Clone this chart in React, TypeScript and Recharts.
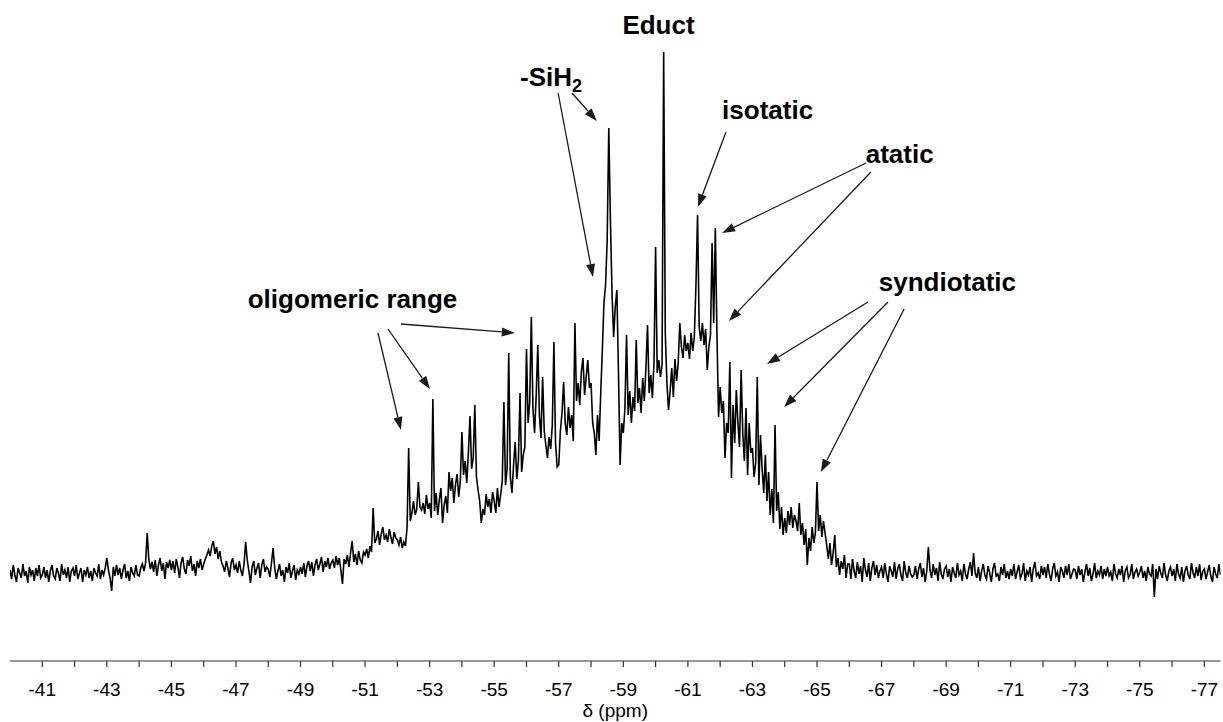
import React from 'react';
import { LineChart, Line, XAxis, YAxis, ReferenceLine, ReferenceDot, Label } from 'recharts';

// Chemical-shift grid of the spectrum (ppm); one row of INTENSITY per ppm.
const PPM_START = -40;
const PPM_STEP = 0.05;

// 29Si NMR intensity (arbitrary units), 20 points per ppm starting at PPM_START.
const INTENSITY: number[][] = [
  /* -40 */ [3, -6, 8, -2, -9, 5, 0, -5, 9, -3, 2, -10, 6, -2, 3, -8, 5, -3, 8, -5],
  /* -41 */ [-2, 6, -5, 3, -9, 2, 8, -3, -6, 5, 0, -8, 9, -2, 3, -5, 6, -9, 2, 5],
  /* -42 */ [-3, 8, -6, 0, 5, -9, 3, -2, 6, -5, 2, -8, 5, 0, -3, 9, -6, 3, -2, 5],
  /* -43 */ [15, 3, -5, -18, 6, -3, 8, -2, 5, -6, 3, 9, -5, 2, -8, 6, 0, -3, 8, -2],
  /* -44 */ [-3, 5, 9, 2, 10, 40, 14, 4, 11, 1, 13, -3, 8, 15, 2, 10, -6, 11, 5, 13],
  /* -45 */ [3, 12, 0, 14, 6, -5, 10, 16, 4, -1, 13, 7, 17, 2, 9, -3, 12, 5, 14, 3],
  /* -46 */ [9, 14, 18, 23, 17, 27, 32, 19, 26, 14, 22, 11, 7, 1, 12, 5, -4, 10, 15, 3],
  /* -47 */ [8, 0, 12, 3, -3, 9, 31, 13, 2, -10, 6, 12, -2, 5, 10, -5, 8, 14, 1, 6],
  /* -48 */ [4, -4, 10, 25, 5, -6, 2, 9, -3, 3, -9, 6, 0, 10, -5, 2, 8, -7, 3, -1],
  /* -49 */ [6, -1, 10, -4, 7, 12, 2, 11, -3, 8, 14, 3, 9, 16, 1, 12, 6, 15, 4, 10],
  /* -50 */ [13, 5, 17, 8, 15, 3, -11, 14, 9, 18, 6, 20, 32, 11, 19, 8, 22, 13, 10, 21],
  /* -51 */ [18, 24, 15, 27, 21, 65, 30, 34, 42, 28, 39, 46, 33, 38, 31, 44, 36, 29, 41, 35],
  /* -52 */ [33, 28, 36, 25, 31, 27, 45, 125, 52, 60, 72, 58, 64, 91, 66, 63, 70, 59, 78, 64],
  /* -53 */ [70, 55, 174, 62, 80, 58, 73, 85, 50, 68, 77, 60, 101, 82, 95, 70, 88, 99, 76, 92],
  /* -54 */ [141, 98, 112, 90, 120, 157, 104, 115, 168, 96, 83, 72, 50, 64, 58, 79, 66, 74, 60, 81],
  /* -55 */ [72, 60, 85, 66, 78, 92, 171, 88, 104, 220, 96, 80, 108, 131, 94, 112, 180, 101, 118, 126],
  /* -56 */ [224, 150, 171, 256, 165, 140, 176, 228, 158, 135, 196, 142, 128, 115, 136, 124, 148, 231, 130, 106],
  /* -57 */ [108, 142, 160, 191, 150, 138, 166, 145, 158, 132, 250, 172, 190, 168, 201, 215, 178, 196, 213, 185],
  /* -58 */ [190, 150, 140, 118, 158, 132, 180, 223, 270, 288, 333, 445, 353, 280, 236, 266, 283, 200, 108, 150],
  /* -59 */ [140, 165, 238, 158, 182, 150, 176, 162, 233, 170, 185, 160, 195, 172, 205, 248, 180, 198, 175, 210],
  /* -60 */ [326, 200, 213, 196, 208, 521, 240, 190, 163, 182, 205, 176, 214, 192, 210, 250, 226, 215, 238, 222],
  /* -61 */ [230, 214, 240, 222, 236, 288, 358, 246, 232, 250, 228, 244, 203, 226, 238, 330, 250, 345, 240, 156],
  /* -62 */ [186, 160, 172, 115, 150, 140, 211, 95, 168, 130, 183, 150, 126, 203, 140, 112, 165, 98, 150, 120],
  /* -63 */ [125, 96, 110, 196, 88, 138, 104, 80, 118, 72, 101, 58, 84, 50, 148, 62, 81, 44, 66, 38],
  /* -64 */ [55, 40, 62, 48, 66, 45, 58, 52, 42, 70, 38, 50, 28, 44, 8, 35, 22, 46, 30, 40],
  /* -65 */ [91, 42, 58, 36, 52, 40, 28, 14, 30, 8, 20, 38, 6, 15, -2, 12, 4, 18, -5, 9],
  /* -66 */ [9, -6, 14, 2, -5, 11, -1, 7, -9, 15, 3, -4, 10, -8, 5, 12, -2, 8, -5, 2],
  /* -67 */ [6, -5, 10, -1, -9, 7, 2, -4, 11, -6, 4, 9, -2, -8, 12, 0, -5, 7, -1, -4],
  /* -68 */ [-2, 7, -6, 4, 10, -4, 5, -9, 2, 26, 3, -5, 9, -2, 5, -8, 11, -1, -6, 4],
  /* -69 */ [7, -4, 4, -9, 6, 0, -5, 10, -2, 2, -8, 9, -1, -6, 4, 11, -3, 20, 0, -5],
  /* -70 */ [6, -8, 2, 9, -2, -6, 7, 0, -9, 4, 10, -3, -1, -8, 6, -2, 9, -5, 2, -6],
  /* -71 */ [4, -3, 9, -6, 1, 8, -5, -1, 10, -8, 2, -2, 6, -9, 4, 11, -3, 0, -6, 7],
  /* -72 */ [-2, 6, -5, 9, -1, -8, 4, 10, -3, 1, -9, 6, 2, -5, 7, -2, 9, -6, -1, 4],
  /* -73 */ [3, -6, 7, -2, 4, -9, 1, 9, -3, 5, -8, -1, 10, -5, 2, -2, 7, -6, 4, -3],
  /* -74 */ [6, -3, 1, -8, 9, -1, -5, 4, -2, 7, -9, 2, 6, -5, -2, 9, -6, 1, 4, -3],
  /* -75 */ [1, 7, -5, 2, -8, 6, -1, -3, 9, -24, 4, -6, 7, 0, -5, 10, -2, -8, 2, 6],
  /* -76 */ [-3, 4, -8, 9, -1, -5, 6, -9, 2, 7, -2, -6, 10, 0, -5, 6, -3, 9, -7, 2],
  /* -77 */ [4, -6, 1, 8, -3, -9, 6, -1, -5, 9, -2],
];

const MAJOR_TICKS = [-41, -43, -45, -47, -49, -51, -53, -55, -57, -59, -61, -63, -65, -67, -69, -71, -73, -75, -77];
const MINOR_TICKS = [-42, -44, -46, -48, -50, -52, -54, -56, -58, -60, -62, -64, -66, -68, -70, -72, -74, -76];

// Peak assignments: text anchored at (ppm, intensity)
const LABELS = [
  { text: 'oligomeric range', ppm: -50.61, y: 265 },
  { text: 'Educt', ppm: -60.09, y: 539 },
  { text: 'isotatic', ppm: -63.47, y: 454 },
  { text: 'atatic', ppm: -67.56, y: 410 },
  { text: 'syndiotatic', ppm: -69.04, y: 282 },
];
const SIH2_LABEL = { ppm: -55.8, y: 487 };

// Arrows from a label towards the assigned signal: [ppm, intensity] start -> tip
const ARROWS: [number, number, number, number][] = [
  [-56.98, 480, -58.06, 296],
  [-57.41, 480, -58.18, 452],
  [-62.18, 441, -61.31, 366],
  [-66.52, 410, -62.06, 340],
  [-66.67, 401, -62.27, 252],
  [-66.58, 271, -63.45, 209],
  [-67.2, 271, -63.98, 166],
  [-67.7, 264, -65.12, 101],
  [-51.4, 240, -52.11, 143],
  [-51.71, 244, -53.01, 184],
  [-52.11, 249, -55.64, 240],
];

const FONT = '"Liberation Sans", Arial, Helvetica, sans-serif';

const data = INTENSITY.flat().map((v, i) => ({
  ppm: Number((PPM_START - i * PPM_STEP).toFixed(2)),
  intensity: v,
}));

const allTicks = [...MAJOR_TICKS, ...MINOR_TICKS].sort((a, b) => b - a);

const AxisTick = (props: any) => {
  const { x, y, payload } = props;
  const major = MAJOR_TICKS.includes(payload.value);
  return (
    <g>
      <line x1={x} x2={x} y1={y} y2={y + 6} stroke="#333" strokeWidth={1.2} />
      {major && (
        <text x={x} y={y + 35} textAnchor="middle" fontFamily={FONT} fontSize={19} fill="#000">
          {String(payload.value)}
        </text>
      )}
    </g>
  );
};

const Arrow = (props: any) => {
  const { x1, y1, x2, y2 } = props;
  const dx = x2 - x1;
  const dy = y2 - y1;
  const len = Math.hypot(dx, dy) || 1;
  const ux = dx / len;
  const uy = dy / len;
  const hl = 13;
  const hw = 4.5;
  const bx = x2 - ux * hl;
  const by = y2 - uy * hl;
  return (
    <g>
      <line x1={x1} y1={y1} x2={bx} y2={by} stroke="#1a1a1a" strokeWidth={1.3} />
      <polygon
        points={`${x2},${y2} ${bx - uy * hw},${by + ux * hw} ${bx + uy * hw},${by - ux * hw}`}
        fill="#1a1a1a"
      />
    </g>
  );
};

export default function App() {
  return (
    <div style={{ position: 'absolute', left: 0, top: 0, background: '#fff' }}>
      <LineChart
        width={1223}
        height={722}
        data={data}
        margin={{ top: 20, right: 2.5, bottom: 0, left: 10 }}
      >
        <XAxis
          dataKey="ppm"
          type="number"
          domain={[-77.5, -40]}
          reversed
          ticks={allTicks}
          interval={0}
          tick={<AxisTick />}
          tickLine={false}
          tickSize={0}
          tickMargin={0}
          height={61}
          axisLine={{ stroke: '#333', strokeWidth: 1.2 }}
          allowDataOverflow
        >
          <Label
            content={(p: any) => {
              const vb = p.viewBox || { x: 10, y: 661, width: 1210.5 };
              return (
                <text
                  x={vb.x + vb.width / 2}
                  y={vb.y + 56}
                  textAnchor="middle"
                  fontFamily={FONT}
                  fontSize={19}
                  fill="#000"
                >
                  δ (ppm)
                </text>
              );
            }}
          />
        </XAxis>
        <YAxis hide domain={[-88, 553]} allowDataOverflow />
        <Line
          type="linear"
          dataKey="intensity"
          stroke="#000"
          strokeWidth={1.6}
          dot={false}
          isAnimationActive={false}
        />
        {ARROWS.map(([x1, y1, x2, y2], i) => (
          <ReferenceLine
            key={`arrow-${i}`}
            segment={[{ x: x1, y: y1 }, { x: x2, y: y2 }]}
            ifOverflow="visible"
            shape={(p: any) => <Arrow {...p} />}
          />
        ))}
        {LABELS.map((l) => (
          <ReferenceDot
            key={l.text}
            x={l.ppm}
            y={l.y}
            r={0}
            ifOverflow="visible"
            shape={(p: any) => (
              <text
                x={p.cx}
                y={p.cy}
                textAnchor="middle"
                fontFamily={FONT}
                fontWeight="bold"
                fontSize={26}
                fill="#000"
              >
                {l.text}
              </text>
            )}
          />
        ))}
        <ReferenceDot
          x={SIH2_LABEL.ppm}
          y={SIH2_LABEL.y}
          r={0}
          ifOverflow="visible"
          shape={(p: any) => (
            <text x={p.cx} y={p.cy} fontFamily={FONT} fontWeight="bold" fontSize={26} fill="#000">
              -SiH
              <tspan fontSize={18} dy={6}>
                2
              </tspan>
            </text>
          )}
        />
      </LineChart>
    </div>
  );
}
